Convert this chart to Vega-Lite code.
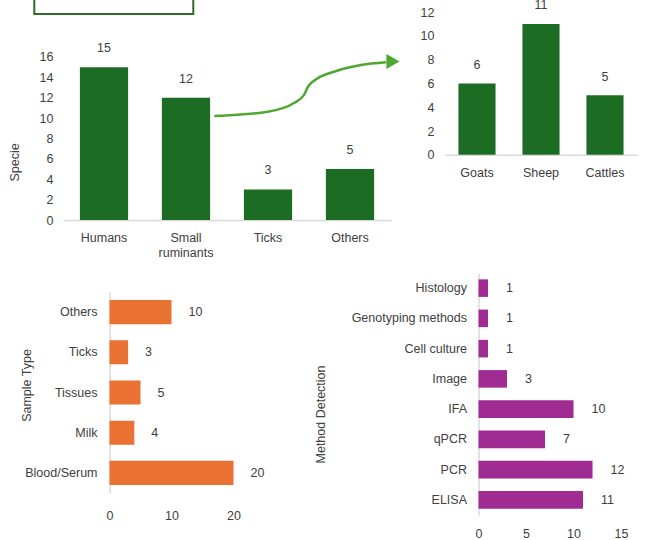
{
  "$schema": "https://vega.github.io/schema/vega-lite/v6.json",
  "padding": {"left": 8, "top": -6, "right": 5, "bottom": 5},
  "background": "white",
  "config": {
    "view": {"stroke": null},
    "font": "Liberation Sans",
    "axis": {"labelFont": "Liberation Sans", "titleFont": "Liberation Sans", "labelFontSize": 12.5, "labelColor": "#404040", "titleFontSize": 12.5, "titleFontWeight": "normal", "titleColor": "#404040", "ticks": false, "grid": false, "domainColor": "#D9D9D9", "domainWidth": 1.5, "labelFlush": false},
    "text": {"font": "Liberation Sans", "fontSize": 12.5, "color": "#404040"}
  },
  "columns": 2,
  "spacing": {"row": 53, "column": 54},
  "bounds": "flush",
  "align": "each",
  "datasets": {
    "species": [
      {"Specie": "Humans", "n": 15},
      {"Specie": "Small ruminants", "n": 12},
      {"Specie": "Ticks", "n": 3},
      {"Specie": "Others", "n": 5}
    ],
    "ruminants": [
      {"Animal": "Goats", "n": 6},
      {"Animal": "Sheep", "n": 11},
      {"Animal": "Cattles", "n": 5}
    ],
    "sample": [
      {"Sample": "Others", "n": 10},
      {"Sample": "Ticks", "n": 3},
      {"Sample": "Tissues", "n": 5},
      {"Sample": "Milk", "n": 4},
      {"Sample": "Blood/Serum", "n": 20}
    ],
    "method": [
      {"Method": "Histology", "n": 1},
      {"Method": "Genotyping methods", "n": 1},
      {"Method": "Cell culture", "n": 1},
      {"Method": "Image", "n": 3},
      {"Method": "IFA", "n": 10},
      {"Method": "qPCR", "n": 7},
      {"Method": "PCR", "n": 12},
      {"Method": "ELISA", "n": 11}
    ],
    "box": [
      {"i": 0, "bx": -0.35, "by": 21.7},
      {"i": 1, "bx": -0.35, "by": 20.22},
      {"i": 2, "bx": 1.589, "by": 20.22},
      {"i": 3, "bx": 1.589, "by": 21.7}
    ],
    "arrow": [
      {"ax": 1.845, "ay": 10.21},
      {"ax": 2.496, "ay": 10.63},
      {"ax": 2.817, "ay": 11.48},
      {"ax": 2.939, "ay": 12.27},
      {"ax": 2.988, "ay": 13.08},
      {"ax": 3.106, "ay": 13.9},
      {"ax": 3.305, "ay": 14.55},
      {"ax": 3.634, "ay": 15.21},
      {"ax": 3.939, "ay": 15.48}
    ],
    "arrowhead": [
      {"ax": 4.024, "ay": 15.55}
    ]
  },
  "concat": [
    {
      "width": 328,
      "height": 208,
      "layer": [
        {
          "data": {"name": "species"},
          "encoding": {
            "x": {"field": "Specie", "type": "nominal", "sort": null, "scale": {"paddingInner": 0.412, "paddingOuter": 0.206}, "axis": {"title": null, "labelAngle": 0, "labelPadding": 11, "labelLineHeight": 15, "labelExpr": "datum.label == 'Small ruminants' ? ['Small', 'ruminants'] : datum.label"}},
            "y": {"field": "n", "type": "quantitative", "scale": {"domain": [0, 20.41], "nice": false}, "axis": {"title": "Specie", "values": [0, 2, 4, 6, 8, 10, 12, 14, 16], "domain": false, "labelPadding": 10, "titleX": -41.5, "titleY": 150}}
          },
          "layer": [
            {"mark": {"type": "bar", "color": "#1C6C24"}},
            {"mark": {"type": "text", "dy": -19, "baseline": "middle"}, "encoding": {"text": {"field": "n", "type": "quantitative"}}}
          ]
        },
        {
          "data": {"name": "box"},
          "mark": {"type": "line", "color": "#2F6B2A", "strokeWidth": 2},
          "encoding": {
            "x": {"field": "bx", "type": "quantitative", "scale": {"domain": [0, 4], "nice": false}, "axis": null},
            "y": {"field": "by", "type": "quantitative", "scale": {"domain": [0, 20.41], "nice": false}, "axis": null},
            "order": {"field": "i"}
          }
        },
        {
          "data": {"name": "arrow"},
          "mark": {"type": "line", "color": "#4EA72E", "strokeWidth": 2.5, "interpolate": "monotone"},
          "encoding": {
            "x": {"field": "ax", "type": "quantitative", "scale": {"domain": [0, 4], "nice": false}, "axis": null},
            "y": {"field": "ay", "type": "quantitative", "scale": {"domain": [0, 20.41], "nice": false}, "axis": null}
          }
        },
        {
          "data": {"name": "arrowhead"},
          "mark": {"type": "point", "shape": "triangle-right", "filled": true, "size": 230, "color": "#4EA72E", "opacity": 1},
          "encoding": {
            "x": {"field": "ax", "type": "quantitative", "scale": {"domain": [0, 4], "nice": false}, "axis": null},
            "y": {"field": "ay", "type": "quantitative", "scale": {"domain": [0, 20.41], "nice": false}, "axis": null}
          }
        }
      ],
      "resolve": {"scale": {"x": "independent", "y": "independent"}, "axis": {"x": "independent", "y": "independent"}}
    },
    {
      "width": 192,
      "height": 189,
      "data": {"name": "ruminants"},
      "encoding": {
        "x": {"field": "Animal", "type": "nominal", "sort": null, "scale": {"paddingInner": 0.42, "paddingOuter": 0.21}, "axis": {"title": null, "labelAngle": 0, "labelPadding": 12, "offset": -46.2}},
        "y": {"field": "n", "type": "quantitative", "scale": {"domain": [-3.88, 12], "nice": false}, "axis": {"title": null, "values": [0, 2, 4, 6, 8, 10, 12], "domain": false, "labelPadding": 11}}
      },
      "layer": [
        {"mark": {"type": "bar", "color": "#1C6C24"}},
        {"mark": {"type": "text", "dy": -18.5, "baseline": "middle"}, "encoding": {"text": {"field": "n", "type": "quantitative"}}}
      ]
    },
    {
      "width": 328,
      "height": 220,
      "data": {"name": "sample"},
      "encoding": {
        "y": {"field": "Sample", "type": "nominal", "sort": null, "scale": {"range": [19, 220], "paddingInner": 0.4, "paddingOuter": 0.2}, "axis": {"title": "Sample Type", "labelPadding": 12.5, "offset": -46.5, "titleX": -76.5, "titleY": 112}},
        "x": {"field": "n", "type": "quantitative", "scale": {"domain": [-7.5, 45.4], "nice": false}, "axis": {"title": null, "values": [0, 10, 20], "domain": false, "labelPadding": 16}}
      },
      "layer": [
        {"mark": {"type": "bar", "color": "#E97132"}},
        {"mark": {"type": "text", "align": "left", "dx": 17, "baseline": "middle"}, "encoding": {"text": {"field": "n", "type": "quantitative"}}}
      ]
    },
    {
      "width": 192,
      "height": 242,
      "data": {"name": "method"},
      "encoding": {
        "y": {"field": "Method", "type": "nominal", "sort": null, "scale": {"paddingInner": 0.42, "paddingOuter": 0.21}, "axis": {"title": "Method Detection", "labelPadding": 12, "offset": -33.5, "titleX": -151.5, "titleY": 141}},
        "x": {"field": "n", "type": "quantitative", "scale": {"domain": [-3.526, 16.68], "nice": false}, "axis": {"title": null, "values": [0, 5, 10, 15], "domain": false, "labelPadding": 12}}
      },
      "layer": [
        {"mark": {"type": "bar", "color": "#A02B93"}},
        {"mark": {"type": "text", "align": "left", "dx": 18, "baseline": "middle"}, "encoding": {"text": {"field": "n", "type": "quantitative"}}}
      ]
    }
  ]
}
